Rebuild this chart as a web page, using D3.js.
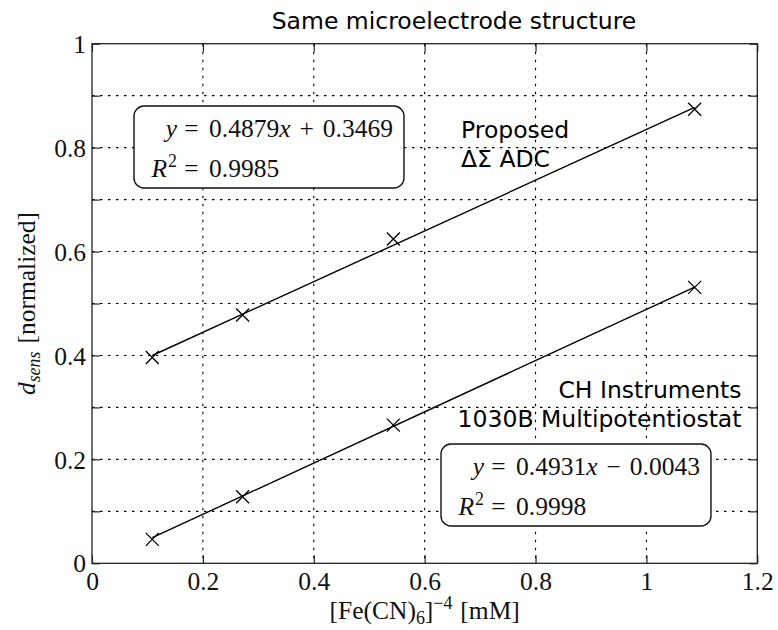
<!DOCTYPE html>
<html>
<head>
<meta charset="utf-8">
<script src="https://cdn.jsdelivr.net/npm/d3@7"></script>
<style>
  body { margin: 0; background: #fff; }
  svg { display: block; }
  svg text.serif, svg .tick text { font-family: "Liberation Serif", "Times New Roman", serif !important; }
</style>
</head>
<body>
<svg id="chart" width="778" height="630"></svg>
<script>
// Ferrocyanide concentration of each sample, mM
const concentration = [0.1087, 0.2717, 0.5435, 1.087];
// Normalized sensor output measured with the proposed ΔΣ ADC
const proposedValues = [0.396, 0.478, 0.624, 0.874];
// Normalized sensor output measured with the CH Instruments 1030B
const chiValues = [0.046, 0.128, 0.266, 0.531];
// Linear fits: [slope, intercept, R²]
const proposedFit = [0.4879, 0.3469, 0.9985];
const chiFit = [0.4931, -0.0043, 0.9998];
// Axis ticks
const xTicks = [0, 0.2, 0.4, 0.6, 0.8, 1, 1.2];
const yTicks = [0, 0.1, 0.2, 0.3, 0.4, 0.5, 0.6, 0.7, 0.8, 0.9, 1];
const yTickLabels = ["0", "", "0.2", "", "0.4", "", "0.6", "", "0.8", "", "1"];
const xGrid = [0.2, 0.4, 0.6, 0.8, 1];
const yGrid = [0.1, 0.2, 0.3, 0.4, 0.5, 0.6, 0.7, 0.8, 0.9];

// ---- layout ----
const W = 778, H = 630;
const m = { left: 92, right: 20.7, top: 43.7, bottom: 66.7 };
const pw = W - m.left - m.right, ph = H - m.top - m.bottom;
const TICK = 8;
const SERIF = '"Liberation Serif", "Times New Roman", serif';
const SANS = '"DejaVu Sans", sans-serif';
const serifSize = 25.5;

const svg = d3.select("#chart");
svg.append("rect").attr("width", W).attr("height", H).attr("fill", "#fff");

const x = d3.scaleLinear().domain([0, 1.2]).range([0, pw]);
const y = d3.scaleLinear().domain([0, 1]).range([ph, 0]);

const g = svg.append("g").attr("transform", `translate(${m.left},${m.top})`);

// dotted grid
const grid = g.append("g").attr("stroke", "#000").attr("stroke-width", 1.1)
  .attr("stroke-dasharray", "2.5,5.5").attr("fill", "none");
grid.selectAll(".gx").data(xGrid).join("line")
  .attr("x1", d => x(d)).attr("x2", d => x(d)).attr("y1", 0).attr("y2", ph);
grid.selectAll(".gy").data(yGrid).join("line")
  .attr("y1", d => y(d)).attr("y2", d => y(d)).attr("x1", 0).attr("x2", pw);

// fitted lines, spanning the measured concentration range
const xs = d3.extent(concentration);
const line = d3.line().x(d => x(d[0])).y(d => y(d[1]));
[proposedFit, chiFit].forEach(f => {
  g.append("path")
    .attr("d", line(xs.map(v => [v, f[0] * v + f[1]])))
    .attr("fill", "none").attr("stroke", "#000").attr("stroke-width", 1.4);
});

// measured points as crosses
const cross = "M-6.5,-6.5L6.5,6.5M-6.5,6.5L6.5,-6.5";
[proposedValues, chiValues].forEach(vals => {
  g.append("g").selectAll("path").data(vals).join("path")
    .attr("d", cross)
    .attr("transform", (d, i) => `translate(${x(concentration[i])},${y(d)})`)
    .attr("fill", "none").attr("stroke", "#000").attr("stroke-width", 1.3);
});

// axes with inward ticks on all four sides
function styleAxis(sel) {
  sel.attr("font-family", SERIF).attr("font-size", serifSize);
  sel.select(".domain").remove();
  sel.selectAll(".tick line").attr("stroke", "#111").attr("stroke-width", 1.1);
  sel.selectAll(".tick text").attr("class", "serif").attr("fill", "#111")
    .style("font-family", SERIF).style("font-size", serifSize + "px");
}
g.append("g").attr("transform", `translate(0,${ph})`)
  .call(d3.axisBottom(x).tickValues(xTicks).tickSizeInner(-TICK).tickSizeOuter(0)
    .tickPadding(9).tickFormat(d3.format("~g")))
  .call(styleAxis);
g.append("g")
  .call(d3.axisTop(x).tickValues(xTicks).tickSizeInner(-TICK).tickSizeOuter(0).tickFormat(""))
  .call(styleAxis);
g.append("g")
  .call(d3.axisLeft(y).tickValues(yTicks).tickSizeInner(-TICK).tickSizeOuter(0)
    .tickPadding(6).tickFormat((d, i) => yTickLabels[i]))
  .call(styleAxis)
  .call(s => s.selectAll(".tick text").attr("dy", "0.34em"));
g.append("g").attr("transform", `translate(${pw},0)`)
  .call(d3.axisRight(y).tickValues(yTicks).tickSizeInner(-TICK).tickSizeOuter(0).tickFormat(""))
  .call(styleAxis);

// frame
g.append("rect").attr("width", pw).attr("height", ph)
  .attr("fill", "none").attr("stroke", "#222").attr("stroke-width", 1.3);

// fit equation boxes
function eqBox(left, top, fit) {
  const bx = svg.append("g");
  const rect = bx.append("rect");
  const txt = bx.append("g").attr("font-family", SERIF).attr("font-size", serifSize).attr("fill", "#111");
  const b1 = top + 30.5, b2 = top + 71;
  // line 1: y = a x ± b
  txt.append("text").attr("x", left + 43).attr("y", b1).attr("text-anchor", "end")
    .attr("font-style", "italic").text("y");
  txt.append("text").attr("x", left + 57.5).attr("y", b1).attr("text-anchor", "middle").text("=");
  const t1 = txt.append("text").attr("x", left + 75).attr("y", b1);
  t1.append("tspan").text(fit[0].toFixed(4));
  t1.append("tspan").attr("font-style", "italic").text("x");
  t1.append("tspan").attr("dx", 9).text(fit[1] < 0 ? "\u2212" : "+");
  t1.append("tspan").attr("dx", 9).text(Math.abs(fit[1]).toFixed(4));
  // line 2: R² = r
  const r = txt.append("text").attr("x", left + 43).attr("y", b2).attr("text-anchor", "end");
  r.append("tspan").attr("font-style", "italic").text("R");
  r.append("tspan").attr("font-size", serifSize * 0.7).attr("dy", -10).attr("dx", 1).text("2");
  txt.append("text").attr("x", left + 57.5).attr("y", b2).attr("text-anchor", "middle").text("=");
  txt.append("text").attr("x", left + 75).attr("y", b2).text(fit[2].toFixed(4));
  const bb = txt.node().getBBox();
  rect.attr("x", left).attr("y", top)
    .attr("width", bb.x + bb.width - left + 11).attr("height", 82)
    .attr("rx", 10).attr("ry", 10)
    .attr("fill", "#fff").attr("stroke", "#111").attr("stroke-width", 1.4);
}
eqBox(134, 106, proposedFit);
eqBox(441, 444, chiFit);

// series labels and title
const sansSize = 23.5;
svg.append("text").attr("font-family", SANS).attr("font-size", sansSize).attr("fill", "#000")
  .attr("x", 454).attr("y", 29).attr("text-anchor", "middle")
  .text("Same microelectrode structure");
const lab1 = svg.append("text").attr("font-family", SANS).attr("font-size", sansSize).attr("fill", "#000");
lab1.append("tspan").attr("x", 461).attr("y", 138).text("Proposed");
lab1.append("tspan").attr("x", 461).attr("y", 166.5).text("ΔΣ ADC");
const lab2 = svg.append("text").attr("font-family", SANS).attr("font-size", sansSize).attr("fill", "#000")
  .attr("text-anchor", "end");
lab2.append("tspan").attr("x", 741.5).attr("y", 397.5).text("CH Instruments");
lab2.append("tspan").attr("x", 741.5).attr("y", 426.5).text("1030B Multipotentiostat");

// x-axis title: [Fe(CN)6]^-4 [mM]
const xl = svg.append("text").attr("font-family", SERIF).attr("font-size", serifSize).attr("fill", "#111")
  .attr("x", m.left + pw / 2).attr("y", 619).attr("text-anchor", "middle");
xl.append("tspan").text("[Fe(CN)");
xl.append("tspan").attr("font-size", serifSize * 0.7).attr("dy", 5).text("6");
xl.append("tspan").attr("dy", -5).text("]");
xl.append("tspan").attr("font-size", serifSize * 0.7).attr("dy", -10).text("\u22124");
xl.append("tspan").attr("dy", 10).attr("dx", 8).text("[mM]");

// y-axis title: d_sens [normalized]
const yl = svg.append("text").attr("font-family", SERIF).attr("font-size", serifSize).attr("fill", "#111")
  .attr("text-anchor", "middle")
  .attr("transform", `translate(35,${m.top + ph / 2}) rotate(-90)`);
yl.append("tspan").attr("font-style", "italic").text("d");
yl.append("tspan").attr("font-style", "italic").attr("font-size", serifSize * 0.7).attr("dy", 5).text("sens");
yl.append("tspan").attr("dy", -5).attr("dx", 8).text("[normalized]");
</script>
</body>
</html>
